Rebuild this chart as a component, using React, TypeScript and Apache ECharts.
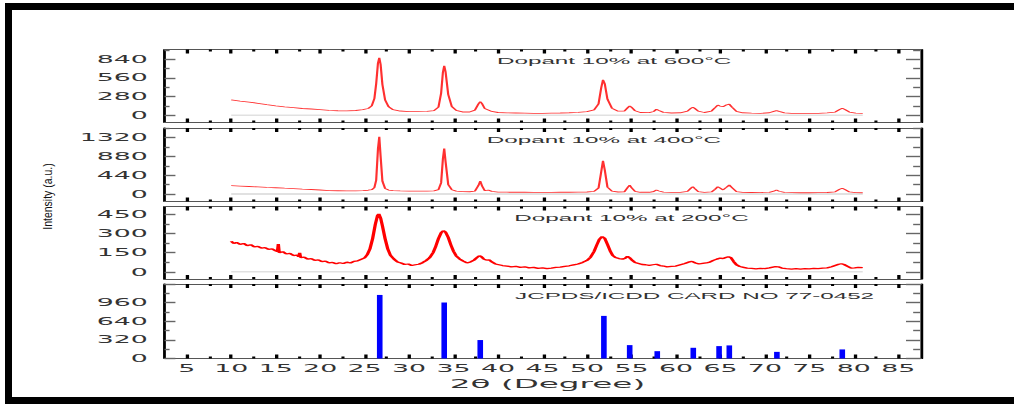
import { useEffect, useRef } from "react";
import * as echarts from "echarts";

// ---------- data ----------
const xMajor = [5, 10, 15, 20, 25, 30, 35, 40, 45, 50, 55, 60, 65, 70, 75, 80, 85];
const xMinor = [7.5, 12.5, 17.5, 22.5, 27.5, 32.5, 37.5, 42.5, 47.5, 52.5, 57.5, 62.5, 67.5, 72.5, 77.5, 82.5];

const yTicks600 = [0, 280, 560, 840];
const yMinor600 = [140, 420, 700, 980];
const yTicks400 = [0, 440, 880, 1320];
const yMinor400 = [220, 660, 1100, 1540];
const yTicks200 = [0, 150, 300, 450];
const yMinor200 = [75, 225, 375];
const yTicksCard = [0, 320, 640, 960, 1280];
const yLabelsCard = [0, 320, 640, 960];
const yMinorCard = [160, 480, 800, 1120];

const s600: [number, number][] = [
  [10, 230], [11, 212], [12, 196], [13, 178], [14, 158], [15, 140], [16, 124], [17, 112], [18, 100], [19, 92],
  [20, 84], [21, 72], [22, 66], [23, 64], [24, 70], [24.8, 82], [25.4, 100], [25.8, 140], [26.1, 250], [26.3, 470],
  [26.5, 780], [26.65, 860], [26.8, 760], [27.0, 460], [27.3, 230], [27.7, 125], [28.2, 82], [29, 62], [30, 54], [31, 52],
  [32, 56], [32.8, 68], [33.3, 120], [33.6, 330], [33.8, 640], [33.95, 740], [34.1, 650], [34.4, 310], [34.8, 130], [35.3, 72],
  [36, 48], [36.8, 48], [37.4, 75], [37.8, 170], [38.0, 203], [38.2, 172], [38.5, 100], [38.9, 78], [39.3, 56], [40, 40],
  [41, 34], [42, 32], [43, 30], [44, 28], [45, 28], [46, 30], [47, 32], [48, 36], [49, 42], [50, 52],
  [50.8, 80], [51.3, 170], [51.6, 410], [51.8, 530], [52.0, 470], [52.3, 240], [52.8, 105], [53.5, 60], [54.2, 62], [54.6, 115],
  [54.8, 138], [55.0, 120], [55.4, 66], [56, 40], [57, 38], [57.5, 55], [57.8, 88], [58.1, 70], [58.6, 42], [59.5, 32],
  [60.5, 36], [61.3, 60], [61.7, 105], [61.9, 118], [62.1, 104], [62.5, 60], [63.2, 40], [64.0, 62], [64.4, 112], [64.7, 152],
  [64.95, 136], [65.3, 128], [65.7, 156], [66.0, 164], [66.3, 120], [66.8, 56], [67.5, 36], [68.5, 30], [69.5, 28], [70.5, 36],
  [71.0, 56], [71.3, 68], [71.6, 56], [72.2, 34], [73, 28], [74, 26], [75, 26], [76, 28], [77, 34], [77.9, 46],
  [78.4, 86], [78.7, 103], [79.0, 86], [79.5, 46], [80.2, 30], [81, 28],
];

const s400: [number, number][] = [
  [10, 194], [11, 185], [12, 176], [13, 166], [14, 156], [15, 147], [16, 136], [17, 126], [18, 114], [19, 104],
  [20, 94], [21, 80], [22, 76], [23, 72], [24, 74], [24.8, 80], [25.4, 88], [25.8, 100], [26.1, 150], [26.3, 320],
  [26.5, 1050], [26.65, 1340], [26.8, 880], [27.0, 300], [27.3, 130], [27.7, 92], [28.2, 78], [29, 72], [30, 68], [31, 66],
  [32, 66], [32.8, 72], [33.3, 100], [33.6, 260], [33.8, 820], [33.95, 1067], [34.1, 760], [34.4, 220], [34.8, 100], [35.3, 66],
  [36, 54], [36.8, 52], [37.4, 66], [37.8, 200], [38.0, 303], [38.2, 190], [38.5, 80], [38.9, 92], [39.3, 60], [40, 44],
  [41, 42], [42, 40], [43, 40], [44, 38], [45, 38], [46, 38], [47, 40], [48, 40], [49, 42], [50, 46],
  [50.8, 60], [51.3, 140], [51.6, 520], [51.8, 778], [52.0, 560], [52.3, 160], [52.8, 66], [53.5, 46], [54.2, 52], [54.6, 160],
  [54.8, 210], [55.0, 150], [55.4, 60], [56, 40], [57, 40], [57.5, 58], [57.8, 93], [58.1, 70], [58.6, 44], [59.5, 36],
  [60.5, 36], [61.3, 60], [61.7, 140], [61.9, 170], [62.1, 130], [62.5, 55], [63.2, 38], [64.0, 48], [64.4, 110], [64.7, 170],
  [64.95, 140], [65.3, 95], [65.7, 160], [66.0, 210], [66.3, 150], [66.8, 55], [67.5, 36], [68.5, 34], [69.5, 32], [70.5, 38],
  [71.0, 66], [71.3, 93], [71.6, 64], [72.2, 36], [73, 32], [74, 30], [75, 30], [76, 32], [77, 34], [77.9, 50],
  [78.4, 110], [78.7, 133], [79.0, 105], [79.5, 48], [80.2, 32], [81, 30],
];

const s200: [number, number][] = [
  [10.0, 240], [10.3, 222], [10.6, 230], [11.0, 215], [11.4, 222], [11.8, 205], [12.2, 212], [12.6, 196], [13.0, 200], [13.4, 186],
  [13.8, 190], [14.2, 176], [14.6, 180], [15.0, 165], [15.2, 160], [15.3, 217], [15.4, 150], [15.8, 158], [16.2, 140], [16.6, 145],
  [17.0, 128], [17.4, 132], [17.6, 118], [17.7, 150], [17.8, 112], [18.2, 116], [18.6, 100], [19.0, 104], [19.4, 90], [19.8, 94],
  [20.2, 80], [20.6, 84], [21.0, 70], [21.4, 74], [21.8, 64], [22.2, 72], [22.6, 66], [23.0, 76], [23.4, 70], [23.8, 82],
  [24.2, 86], [24.6, 98], [25.0, 110], [25.3, 135], [25.6, 180], [25.9, 260], [26.2, 370], [26.45, 440], [26.6, 452], [26.8, 420],
  [27.0, 360], [27.3, 260], [27.6, 180], [27.9, 130], [28.3, 100], [28.7, 78], [29.1, 70], [29.5, 58], [29.9, 62], [30.3, 50],
  [30.7, 56], [31.1, 60], [31.5, 72], [31.9, 88], [32.3, 110], [32.7, 150], [33.0, 200], [33.3, 260], [33.6, 305], [33.85, 322],
  [34.1, 310], [34.4, 270], [34.7, 210], [35.0, 160], [35.3, 125], [35.7, 100], [36.1, 84], [36.5, 70], [36.9, 78], [37.3, 92],
  [37.6, 110], [37.9, 126], [38.1, 120], [38.4, 100], [38.7, 92], [39.0, 95], [39.3, 78], [39.7, 62], [40.1, 56], [40.5, 50],
  [41.0, 46], [41.5, 40], [42.0, 44], [42.5, 36], [43.0, 40], [43.5, 32], [44.0, 36], [44.5, 28], [45.0, 32], [45.5, 26],
  [46.0, 30], [46.5, 35], [47.0, 38], [47.5, 44], [48.0, 48], [48.5, 55], [49.0, 62], [49.5, 74], [50.0, 90], [50.4, 115],
  [50.8, 160], [51.1, 210], [51.4, 255], [51.7, 276], [52.0, 262], [52.3, 215], [52.6, 165], [52.9, 128], [53.2, 112], [53.6, 104],
  [54.0, 100], [54.3, 106], [54.55, 122], [54.8, 110], [55.1, 90], [55.4, 74], [55.8, 66], [56.2, 58], [56.6, 56], [57.0, 52],
  [57.4, 56], [57.8, 60], [58.2, 50], [58.6, 46], [59.0, 40], [59.5, 44], [60.0, 46], [60.5, 56], [61.0, 66], [61.4, 76],
  [61.8, 82], [62.2, 70], [62.6, 62], [63.0, 66], [63.4, 70], [63.8, 76], [64.2, 90], [64.6, 100], [65.0, 108], [65.3, 104],
  [65.6, 112], [65.9, 118], [66.2, 110], [66.5, 80], [66.8, 56], [67.2, 42], [67.6, 36], [68.0, 30], [68.5, 28], [69.0, 24],
  [69.5, 28], [70.0, 26], [70.5, 32], [70.9, 38], [71.2, 42], [71.5, 40], [71.9, 30], [72.4, 26], [73.0, 22], [73.5, 26],
  [74.0, 22], [74.5, 26], [75.0, 24], [75.5, 28], [76.0, 26], [76.5, 30], [77.0, 32], [77.5, 40], [77.9, 50], [78.3, 60],
  [78.6, 64], [78.9, 58], [79.3, 44], [79.7, 30], [80.1, 32], [80.5, 36], [81.0, 34],
];

const cardPeaks: [number, number][] = [
  [26.7, 1092], [33.95, 962], [38.0, 317], [51.9, 732], [54.8, 230], [57.9, 126],
  [61.95, 184], [64.85, 213], [66.0, 225], [71.35, 114], [78.7, 156],
];

const labels = {
  p600: "Dopant 10% at 600°C",
  p400: "Dopant 10% at 400°C",
  p200: "Dopant 10% at 200°C",
  card: "JCPDS/ICDD CARD NO 77-0452",
  xName: "2θ (Degree)",
  yName: "Intensity (a.u.)",
};

// ---------- layout ----------
const S = 2.55; // horizontal stretch of the whole figure
const W = 398;
const H = 404;
const GRID_LEFT = 64.5;
const GRID_RIGHT = W - 361.0;

const panels = [
  { top: 49.5, height: 73, min: -110, max: 985, major: yTicks600, labels: yTicks600, minor: yMinor600 },
  { top: 128, height: 73.5, min: -176, max: 1545, major: yTicks400, labels: yTicks400, minor: yMinor400 },
  { top: 206.5, height: 72.5, min: -55, max: 510, major: yTicks200, labels: yTicks200, minor: yMinor200 },
  { top: 284, height: 74.5, min: 0, max: 1280, major: yTicksCard, labels: yLabelsCard, minor: yMinorCard },
];

const tickFont = { fontSize: 10.5, fontFamily: "DejaVu Sans", color: "#333" };
const plain = (v: number) => String(v);

function xAxesFor(g: number) {
  const base = { type: "value", gridIndex: g, min: 2.5, max: 87.5, splitLine: { show: false } };
  const line = { show: true, onZero: false, lineStyle: { color: "#555", width: 1.2 } };
  const noLine = { show: false, onZero: false };
  const majorTick = { show: true, inside: true, length: 4, customValues: xMajor, lineStyle: { color: "#000", width: 1.3 } };
  const minorTick = { show: true, inside: true, length: 2, customValues: xMinor, lineStyle: { color: "#000", width: 1.2 } };
  return [
    {
      ...base, position: "bottom", axisLine: line, axisTick: majorTick,
      axisLabel: { show: g === 3, customValues: xMajor, margin: 4, formatter: plain, ...tickFont },
    },
    { ...base, position: "bottom", axisLine: noLine, axisTick: minorTick, axisLabel: { show: false } },
    { ...base, position: "top", axisLine: line, axisTick: majorTick, axisLabel: { show: false } },
    { ...base, position: "top", axisLine: noLine, axisTick: minorTick, axisLabel: { show: false } },
  ];
}

function yAxesFor(g: number) {
  const p = panels[g];
  const base = { type: "value", gridIndex: g, min: p.min, max: p.max, splitLine: { show: false } };
  const line = { show: true, onZero: false, lineStyle: { color: "#000", width: 1.1 } };
  const noLine = { show: false, onZero: false };
  const tickStyle = { color: "#666", width: 1.4 };
  return [
    {
      ...base, position: "left", axisLine: line,
      axisTick: { show: true, inside: true, length: 4.3, customValues: p.major, lineStyle: tickStyle },
      axisLabel: { show: true, customValues: p.labels, margin: 6.5, formatter: plain, ...tickFont },
    },
    {
      ...base, position: "left", axisLine: noLine,
      axisTick: { show: true, inside: true, length: 2, customValues: p.minor, lineStyle: tickStyle },
      axisLabel: { show: false },
    },
    {
      ...base, position: "right", axisLine: line,
      axisTick: { show: true, inside: true, length: 5.7, customValues: p.major, lineStyle: tickStyle },
      axisLabel: { show: false },
    },
    {
      ...base, position: "right", axisLine: noLine,
      axisTick: { show: true, inside: true, length: 2.9, customValues: p.minor, lineStyle: tickStyle },
      axisLabel: { show: false },
    },
  ];
}

function zeroLine(g: number, src: [number, number][]) {
  return {
    type: "line", xAxisIndex: 4 * g, yAxisIndex: 4 * g, symbol: "none", silent: true, z: 1,
    data: [[src[0][0], 0], [src[src.length - 1][0], 0]],
    lineStyle: { color: "#c4c4c4", width: 0.8 },
  };
}

function curve(g: number, src: [number, number][], width: number, color: string) {
  return {
    type: "line", xAxisIndex: 4 * g, yAxisIndex: 4 * g, symbol: "none", silent: true, z: 3,
    data: src, lineStyle: { color, width },
  };
}

const annot = (text: string, x: number, y: number, size = 9.5) => ({
  type: "text", x, y, silent: true,
  style: { text, fill: "#333", fontSize: size, fontFamily: "Liberation Sans", align: "left", verticalAlign: "middle" },
});

const option = {
  animation: false,
  backgroundColor: "#fff",
  grid: panels.map((p) => ({
    left: GRID_LEFT, right: GRID_RIGHT, top: p.top, height: p.height, outerBoundsMode: "none", containLabel: false,
  })),
  xAxis: [0, 1, 2, 3].flatMap((g) => xAxesFor(g)),
  yAxis: [0, 1, 2, 3].flatMap((g) => yAxesFor(g)),
  series: [
    zeroLine(0, s600), curve(0, s600, 0.85, "#ff3030"),
    zeroLine(1, s400), curve(1, s400, 0.85, "#ff3030"),
    zeroLine(2, s200), curve(2, s200, 1.3, "#ff0000"),
    {
      type: "bar", xAxisIndex: 12, yAxisIndex: 12, data: cardPeaks, barWidth: 2.2, silent: true,
      itemStyle: { color: "#0000ff" },
    },
  ],
  graphic: [
    annot(labels.p600, 194.9, 60.7),
    annot(labels.p400, 190.9, 140),
    annot(labels.p200, 201.7, 217.7),
    annot(labels.card, 202.0, 296),
    {
      type: "text", x: 214.7, y: 384, silent: true,
      style: { text: labels.xName, fill: "#333", fontSize: 12.8, fontFamily: "DejaVu Sans", align: "center", verticalAlign: "middle" },
    },
    {
      type: "text", x: 18.6, y: 196.5, rotation: Math.PI / 2, scaleX: 1, scaleY: 0.5, silent: true,
      style: { text: labels.yName, fill: "#111", fontSize: 10.5, fontFamily: "Liberation Sans", align: "center", verticalAlign: "middle" },
    },
  ],
};

export default function App() {
  const ref = useRef<HTMLDivElement>(null);
  useEffect(() => {
    if (!ref.current) return;
    const chart = echarts.init(ref.current, null, { renderer: "svg" });
    chart.setOption(option as any);
    return () => chart.dispose();
  }, []);
  return (
    <div style={{ position: "fixed", left: 0, top: 0, width: 1014, height: 404, overflow: "hidden", background: "#fff" }}>
      <div
        ref={ref}
        style={{ position: "absolute", left: 0, top: 0, width: W, height: H, transform: `scaleX(${S})`, transformOrigin: "0 0" }}
      />
      <div
        style={{
          position: "absolute", left: 5, top: 3, width: 1009, height: 401, boxSizing: "border-box",
          borderTop: "7px solid #000", borderLeft: "7px solid #000", borderBottom: "7px solid #000",
        }}
      />
    </div>
  );
}
